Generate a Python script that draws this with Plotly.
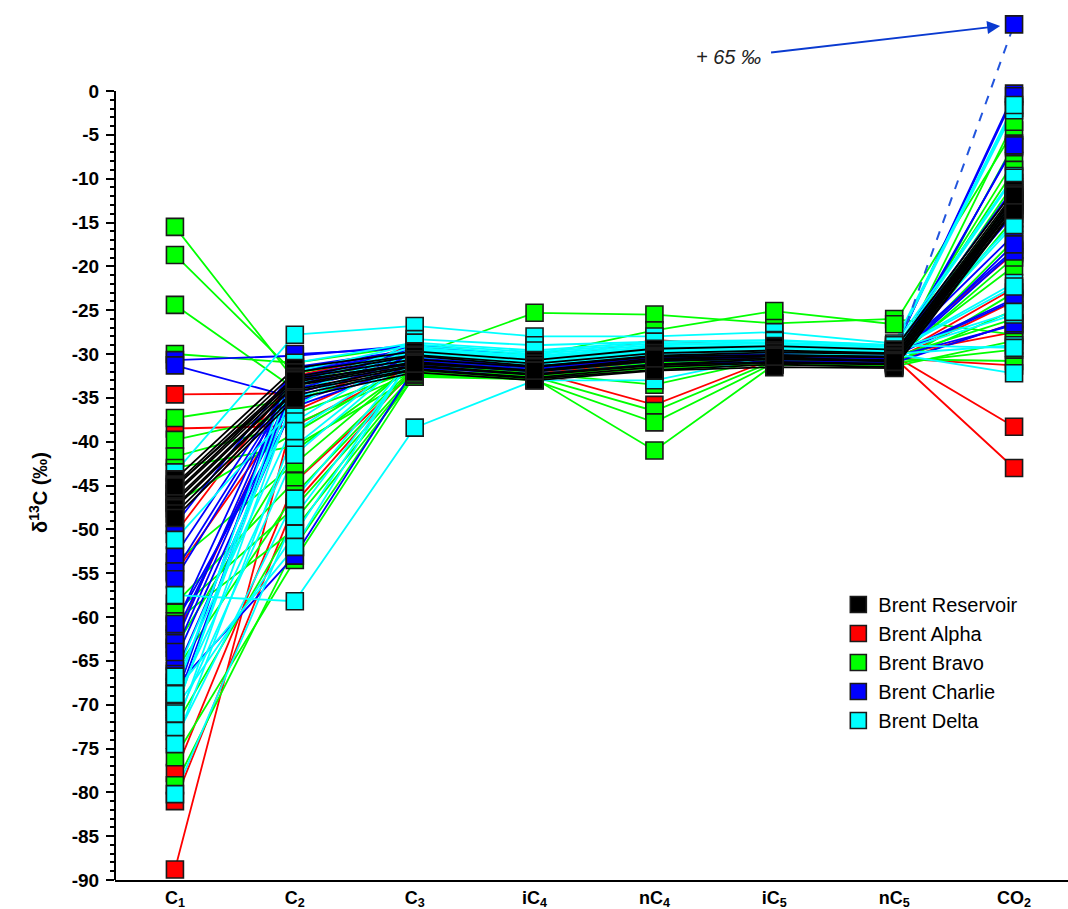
import plotly.graph_objects as go

# ---------------- data ----------------
COMPONENTS = ["C<sub>1</sub>", "C<sub>2</sub>", "C<sub>3</sub>", "iC<sub>4</sub>",
              "nC<sub>4</sub>", "iC<sub>5</sub>", "nC<sub>5</sub>", "CO<sub>2</sub>"]

# each row: d13C of C1, C2, C3, iC4, nC4, iC5, nC5, CO2 (permil)
RESERVOIR = [
    [-44.3, -31.6, -29.7, -30.7, -29.4, -29.1, -29.5, -11.3],
    [-44.9, -32.1, -30.1, -31.1, -29.9, -29.6, -29.9, -11.7],
    [-45.2, -32.6, -30.2, -31.4, -30.2, -29.8, -30.0, -12.1],
    [-45.8, -32.8, -30.6, -31.5, -30.3, -30.1, -30.3, -12.2],
    [-46.0, -33.2, -30.9, -31.9, -30.7, -30.2, -30.4, -12.5],
    [-46.6, -33.5, -31.0, -32.0, -30.8, -30.5, -30.7, -12.6],
    [-46.9, -33.6, -31.3, -32.3, -31.2, -30.6, -30.8, -12.9],
    [-47.4, -34.1, -31.4, -32.4, -31.3, -30.9, -31.1, -13.0],
    [-47.6, -34.3, -31.7, -32.7, -31.5, -31.0, -31.2, -13.1],
    [-48.2, -34.7, -31.8, -32.8, -31.8, -31.2, -31.5, -13.4],
    [-48.7, -35.1, -32.1, -33.0, -31.9, -31.5, -31.6, -13.6],
    [-45.1, -33.0, -31.1, -31.9, -30.5, -30.3, -30.9, -11.9],
]

ALPHA = [
    [-34.6, -34.5, -30.8, -31.5, -30.3, -30.0, -30.2, -38.3],
    [-38.5, -38.2, -31.2, -32.0, -35.8, -30.5, -30.4, -43.0],
    [-77.8, -44.6, -32.0, -32.6, -30.8, -30.4, -30.6, -24.0],
    [-81.0, -47.0, -31.5, -32.2, -31.0, -30.6, -30.9, -26.5],
    [-88.8, -36.5, -30.5, -31.4, -30.6, -30.2, -30.5, -31.3],
    [-62.5, -33.5, -28.9, -30.8, -28.4, -29.3, -29.9, -18.5],
    [-55.0, -35.5, -30.2, -31.2, -29.7, -30.1, -30.3, -22.5],
    [-50.5, -32.5, -29.6, -30.9, -29.9, -29.8, -30.1, -27.5],
]

BRAVO = [
    [-15.5, -33.0, -30.5, -31.6, -30.2, -30.0, -30.3, -20.0],
    [-18.7, -32.2, -29.8, -31.0, -29.7, -29.6, -29.9, -8.0],
    [-24.4, -34.0, -30.2, -25.3, -25.5, -26.5, -26.0, -27.8],
    [-30.0, -31.0, -29.0, -30.2, -27.3, -25.1, -26.6, -4.5],
    [-37.3, -35.2, -31.2, -32.2, -33.5, -30.5, -30.6, -30.8],
    [-39.8, -36.8, -31.8, -32.6, -36.5, -30.8, -30.9, -14.5],
    [-41.7, -38.0, -32.0, -33.0, -37.8, -31.0, -31.1, -3.5],
    [-43.0, -40.5, -32.5, -32.8, -41.0, -31.2, -31.3, -6.0],
    [-58.5, -44.5, -31.5, -31.8, -30.6, -30.3, -30.5, -10.5],
    [-59.5, -47.5, -32.2, -32.4, -31.0, -30.6, -30.8, -17.0],
    [-60.5, -50.0, -32.6, -32.9, -31.4, -31.0, -31.2, -23.0],
    [-76.0, -53.5, -32.4, -32.7, -31.6, -31.2, -31.4, -28.5],
    [-79.2, -52.0, -32.0, -32.3, -31.2, -30.9, -31.0, -25.0],
    [-53.8, -42.5, -31.0, -31.5, -30.0, -29.9, -30.1, -12.0],
    [-66.2, -46.0, -31.7, -32.0, -30.8, -30.4, -30.7, -19.0],
    [-72.5, -49.0, -32.3, -32.6, -31.3, -30.8, -31.0, -29.5],
    [-47.0, -39.0, -30.8, -31.3, -29.8, -29.7, -29.9, -9.0],
    [-63.5, -41.0, -31.2, -31.7, -30.4, -30.1, -30.3, -26.0],
]

CHARLIE = [
    [-30.7, -30.2, -29.0, -30.3, -29.4, -29.3, -29.6, -0.3],
    [-31.3, -35.0, -30.4, -31.4, -30.4, -30.0, -30.3, -6.4],
    [-49.5, -31.8, -29.6, -30.8, -29.6, -29.4, -29.8, -16.4],
    [-53.0, -32.6, -30.0, -31.0, -29.9, -29.7, -30.0, -18.1],
    [-54.8, -33.0, -30.2, -31.2, -30.1, -29.8, -30.1, -23.7],
    [-55.7, -33.5, -30.4, -31.4, -30.3, -30.0, -30.3, -26.7],
    [-62.0, -34.0, -30.6, -31.6, -30.5, -30.2, -30.5, 65.0],
    [-63.0, -32.0, -29.8, -30.9, -29.8, -29.6, -30.0, -14.0],
    [-65.0, -34.5, -30.8, -31.8, -30.6, -30.3, -30.6, -18.3],
    [-61.0, -31.5, -29.5, -30.7, -29.6, -29.5, -29.8, -11.0],
    [-64.0, -33.0, -30.3, -31.3, -30.2, -29.9, -30.2, -23.9],
    [-66.5, -35.5, -31.0, -32.0, -30.8, -30.5, -30.8, -6.2],
    [-68.0, -53.0, -31.6, -32.3, -31.2, -30.8, -31.0, -26.5],
    [-69.5, -30.0, -29.3, -30.5, -29.4, -29.3, -29.6, -0.6],
    [-60.8, -36.0, -31.2, -31.9, -30.7, -30.4, -30.7, -17.5],
    [-70.2, -32.8, -30.0, -31.1, -30.0, -29.8, -30.1, -13.0],
]

DELTA = [
    [-43.5, -27.8, -26.8, -28.0, -28.0, -27.5, -28.8, -1.9],
    [-51.2, -36.0, -28.3, -29.0, -28.6, -28.4, -29.0, -9.7],
    [-57.5, -58.2, -38.4, -33.0, -33.0, -30.2, -30.0, -32.2],
    [-67.5, -37.7, -29.3, -30.2, -29.2, -29.0, -29.4, -15.0],
    [-69.7, -40.5, -29.6, -30.5, -29.5, -29.2, -29.6, -21.9],
    [-72.2, -41.5, -29.8, -30.7, -29.7, -29.4, -29.8, -25.5],
    [-74.0, -46.5, -30.1, -31.0, -29.9, -29.6, -30.0, -29.0],
    [-80.2, -48.5, -30.3, -31.2, -30.1, -29.8, -30.1, -12.5],
    [-70.5, -50.5, -30.0, -30.9, -29.8, -29.5, -29.9, -15.3],
    [-68.5, -52.0, -29.7, -30.6, -29.6, -29.3, -29.7, -22.3],
    [-70.8, -33.5, -29.1, -30.0, -29.0, -28.8, -29.2, -2.2],
    [-73.0, -34.5, -29.4, -30.3, -29.3, -29.0, -29.5, -9.9],
    [-71.0, -32.0, -28.9, -29.8, -28.8, -28.7, -29.1, -1.6],
    [-66.8, -35.2, -29.5, -30.4, -29.4, -29.1, -29.5, -25.2],
    [-74.5, -38.8, -29.9, -30.8, -29.8, -29.5, -29.8, -12.8],
    [-68.8, -31.0, -28.7, -29.6, -28.6, -28.5, -29.0, -29.3],
]

SERIES_NAMES = ["Brent Reservoir", "Brent Alpha", "Brent Bravo", "Brent Charlie", "Brent Delta"]
SERIES_DATA = [RESERVOIR, ALPHA, BRAVO, CHARLIE, DELTA]
SERIES_COLORS = ["#000000", "#FF0000", "#00FF00", "#0000FF", "#00FFFF"]
DRAW_ORDER = [1, 2, 3, 4, 0]   # alpha, bravo, charlie, delta, reservoir on top

Y_TICKS = list(range(-90, 1, 5))
Y_TITLE = "\u03b4<sup>13</sup>C (\u2030)"
Y_MIN_ON_SCALE = -90.0
Y_MAX_ON_SCALE = 0.0     # axis scale ends at 0 permil
OFF_SCALE_Y = 7.6        # where off-scale values are drawn (axis break)


def shown(v):
    return OFF_SCALE_Y if v > Y_MAX_ON_SCALE else v


fig = go.Figure()

# lines
for i in DRAW_ORDER:
    xs, ys = [], []
    for row in SERIES_DATA[i]:
        vals = list(row)
        n = len(vals)
        if vals[-1] > Y_MAX_ON_SCALE:
            n -= 1  # off-scale segment drawn dashed
        xs += COMPONENTS[:n] + [None]
        ys += vals[:n] + [None]
    fig.add_trace(go.Scatter(x=xs, y=ys, mode="lines", showlegend=False, hoverinfo="skip",
                             line=dict(color=SERIES_COLORS[i], width=1.8), connectgaps=False))

# dashed segments to off-scale values
for i in DRAW_ORDER:
    for row in SERIES_DATA[i]:
        if row[-1] > Y_MAX_ON_SCALE:
            fig.add_trace(go.Scatter(x=COMPONENTS[-2:], y=[row[-2], shown(row[-1])], mode="lines",
                                     showlegend=False, hoverinfo="skip",
                                     line=dict(color="#2255DD", width=2, dash="dash")))

# markers
for i in DRAW_ORDER:
    xs, ys = [], []
    for row in SERIES_DATA[i]:
        xs += COMPONENTS
        ys += [shown(v) for v in row]
    fig.add_trace(go.Scatter(x=xs, y=ys, mode="markers", name=SERIES_NAMES[i],
                             legendrank=i + 1,
                             marker=dict(symbol="square", size=17, color=SERIES_COLORS[i],
                                         line=dict(color="#1a1a1a", width=1.6))))

# off-scale annotation with arrow
for i in DRAW_ORDER:
    for row in SERIES_DATA[i]:
        if row[-1] > Y_MAX_ON_SCALE:
            fig.add_annotation(x=COMPONENTS[-1], y=shown(row[-1]), xref="x", yref="y",
                               text="<i>+ %d \u2030</i>" % round(row[-1]),
                               font=dict(family="Liberation Sans", size=20, color="#222222"),
                               showarrow=True, arrowhead=2, arrowsize=1.3, arrowwidth=2,
                               arrowcolor="#0A3AD0", standoff=14, ax=-286, ay=33,
                               borderpad=10)

# y-axis title centred on the scaled part of the axis
fig.add_annotation(xref="paper", yref="y", x=-0.0955, y=(Y_MIN_ON_SCALE + Y_MAX_ON_SCALE) / 2 - 0.8,
                   text=Y_TITLE, textangle=-90, showarrow=False,
                   font=dict(family="Liberation Sans", size=20, color="black", weight="bold"))

minor_vals = [v for v in range(-90, 1) if v % 5 != 0]

fig.update_layout(
    width=1068, height=909,
    margin=dict(l=115, r=0, t=10, b=29),
    plot_bgcolor="white", paper_bgcolor="white",
    font=dict(family="Liberation Sans", color="black"),
    showlegend=True,
    legend=dict(x=0.759, y=0.339, xanchor="left", yanchor="top",
                font=dict(family="Liberation Sans", size=20, color="black"),
                bgcolor="rgba(0,0,0,0)", itemwidth=30),
    xaxis=dict(type="category", categoryorder="array", categoryarray=COMPONENTS,
               range=[-0.5, 7.45], showgrid=False, zeroline=False,
               showline=True, linecolor="black", linewidth=2, ticks="",
               tickfont=dict(family="Liberation Sans", size=18, color="black", weight="bold")),
    yaxis=dict(range=[Y_MIN_ON_SCALE, 9.24], showgrid=False, zeroline=False, showline=False,
               tickvals=Y_TICKS, ticktext=[str(v) for v in Y_TICKS],
               ticks="outside", ticklen=8, tickwidth=2, tickcolor="black",
               ticklabelstandoff=3,
               minor=dict(tickvals=minor_vals, ticks="outside", ticklen=4, tickwidth=1.5,
                          tickcolor="black"),
               tickfont=dict(family="Liberation Sans", size=19, color="black", weight="bold")),
)

# y axis line only over the scaled part (0 to -90)
fig.add_shape(type="line", xref="paper", yref="y", x0=0, x1=0, y0=Y_MIN_ON_SCALE,
              y1=Y_MAX_ON_SCALE, line=dict(color="black", width=2))

fig.write_html("out.html", config={"displayModeBar": False},
               post_script="document.body.style.margin='0';")
